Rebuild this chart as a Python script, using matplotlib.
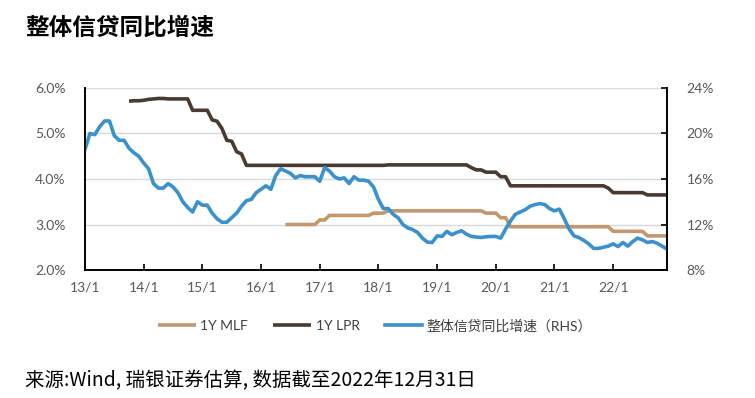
import numpy as np
import matplotlib.pyplot as plt
from matplotlib.ticker import FuncFormatter

plt.rcParams['font.family'] = ['Lato', 'Noto Sans CJK SC', 'DejaVu Sans']

# monthly, Jan 2013 (0) .. Dec 2022 (119)
months = np.arange(120)

# 整体信贷同比增速 (RHS, %)
credit = [18.6, 20.0, 19.9, 20.6, 21.1, 21.1, 19.8, 19.4, 19.4, 18.7,
          18.3, 18.0, 17.4, 16.9, 15.6, 15.2, 15.2, 15.6, 15.3, 14.8,
          14.0, 13.5, 13.1, 14.0, 13.7, 13.7, 13.0, 12.5, 12.2, 12.2,
          12.6, 13.0, 13.6, 14.1, 14.2, 14.8, 15.1, 15.4, 15.1, 16.3,
          16.9, 16.7, 16.5, 16.1, 16.3, 16.2, 16.2, 16.2, 15.8, 17.0,
          16.7, 16.2, 16.0, 16.1, 15.6, 16.2, 15.9, 15.9, 15.8, 15.3,
          14.2, 13.4, 13.4, 12.9, 12.6, 12.0, 11.7, 11.55, 11.3, 10.8,
          10.45, 10.42, 11.0, 10.95, 11.4, 11.1, 11.3, 11.45, 11.15, 10.95,
          10.9, 10.86, 10.92, 10.95, 10.95, 10.8, 11.6, 12.3, 12.9, 13.1,
          13.3, 13.6, 13.75, 13.84, 13.75, 13.4, 13.2, 13.35, 12.5, 11.6,
          11.0, 10.85, 10.6, 10.3, 9.9, 9.9, 10.0, 10.1, 10.3, 10.06,
          10.42, 10.1, 10.5, 10.8, 10.65, 10.42, 10.5, 10.35, 10.1, 9.85]

# 1Y LPR (%), starts Oct 2013
lpr = ([np.nan] * 9 +
       [5.71, 5.72, 5.72, 5.73, 5.75, 5.76, 5.77, 5.77, 5.76, 5.76,
        5.76, 5.76, 5.76, 5.51, 5.51, 5.51, 5.51, 5.30, 5.27, 5.11,
        4.85, 4.83, 4.60, 4.55, 4.30] +
       [4.30] * 28 +
       [4.31] * 17 +
       [4.25, 4.20, 4.20, 4.15, 4.15, 4.15, 4.05, 4.05] +
       [3.85] * 20 +
       [3.80] +
       [3.70] * 7 +
       [3.65] * 5)

# 1Y MLF (%), starts Jun 2016
mlf = ([np.nan] * 41 +
       [3.00] * 7 + [3.10] * 2 + [3.20] * 9 + [3.25] * 3 +
       [3.30] * 20 + [3.25] * 3 + [3.15] * 2 + [2.95] * 21 +
       [2.85] * 7 + [2.75] * 5)

xticks = np.arange(0, 120, 12)
xlabels = ['13/1', '14/1', '15/1', '16/1', '17/1', '18/1', '19/1', '20/1', '21/1', '22/1']

fig = plt.figure(figsize=(7.55, 3.98), dpi=100)
ax = fig.add_axes([0.1126, 0.3216, 0.7708, 0.4573])
ax2 = ax.twinx()

c_mlf = '#C4976F'
c_lpr = '#4A3A2F'
c_blue = '#3A91CE'

l1, = ax.plot(months, mlf, color=c_mlf, lw=2.6, solid_capstyle='butt', label='1Y MLF')
l2, = ax.plot(months, lpr, color=c_lpr, lw=2.6, solid_capstyle='butt', label='1Y LPR')
l3, = ax2.plot(months, credit, color=c_blue, lw=2.6, label='整体信贷同比增速（RHS）')

ax.set_xlim(0, 119)
ax.set_ylim(2, 6)
ax2.set_ylim(8, 24)
ax.set_yticks([2, 3, 4, 5, 6])
ax2.set_yticks([8, 12, 16, 20, 24])
ax.yaxis.set_major_formatter(FuncFormatter(lambda v, p: f'{v:.1f}%'))
ax2.yaxis.set_major_formatter(FuncFormatter(lambda v, p: f'{v:.0f}%'))
ax.set_xticks(xticks)
ax.set_xticklabels(xlabels)

ax.grid(axis='y', color='#D9D9D9', lw=1)
ax.set_axisbelow(True)
for a in (ax, ax2):
    a.spines['top'].set_visible(False)
    for s in ('left', 'right', 'bottom'):
        a.spines[s].set_color('#000000')
        a.spines[s].set_linewidth(1.2)
ax.tick_params(axis='x', direction='in', length=4, width=1.2, colors='#000000',
               labelcolor='#595959', labelsize=10, pad=8)
ax.tick_params(axis='y', length=0, labelcolor='#595959', labelsize=10, pad=14)
ax2.tick_params(axis='y', direction='in', length=4, width=1.2,
                labelcolor='#595959', labelsize=10, pad=14)

fig.legend(handles=[l1, l2, l3], loc='center', bbox_to_anchor=(0.497, 0.182),
           ncol=3, frameon=False, fontsize=10, handlelength=2.7,
           handletextpad=0.35, columnspacing=1.8, labelcolor='#404040')

fig.text(0.033, 0.93, '整体信贷同比增速', fontsize=17, fontweight='bold',
         family=['Noto Sans CJK SC'], va='center', ha='left')
fig.text(0.033, 0.043, '来源:Wind, 瑞银证券估算, 数据截至2022年12月31日', fontsize=14,
         family=['Noto Sans CJK SC', 'DejaVu Sans'], va='center', ha='left')

fig.savefig('out.png', dpi=100)
